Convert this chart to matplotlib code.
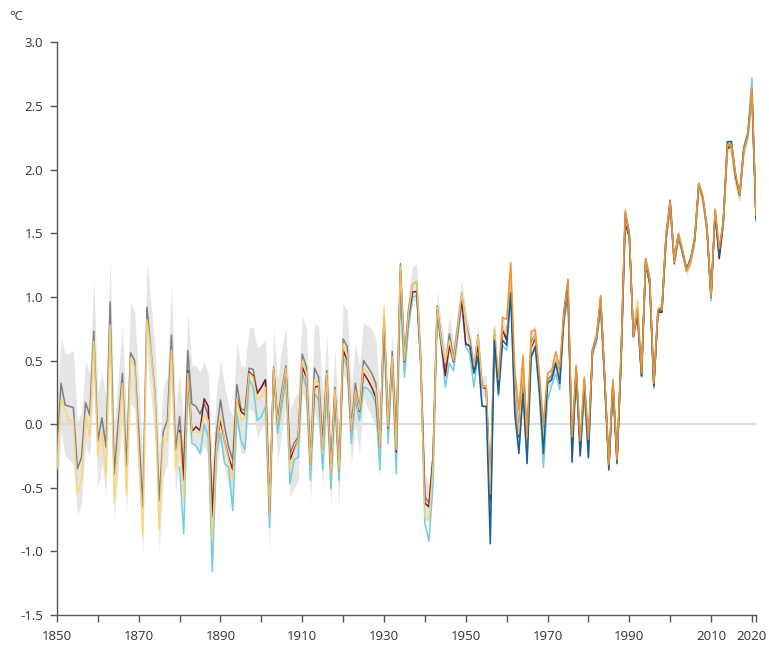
import numpy as np
import matplotlib
matplotlib.use("Agg")
import matplotlib.pyplot as plt

# ==========================================================
# DATA  (annual temperature anomaly, degC)
# ==========================================================

GRAY_START = 1850
gray = [
    -0.22, 0.32, 0.15, 0.14, 0.13, -0.35, -0.26, 0.17, 0.07, 0.73,
    -0.13, 0.05, -0.18, 0.96, -0.39, 0.02, 0.40, -0.33, 0.56, 0.50,
    -0.06, -0.65, 0.92, 0.58, 0.24, -0.60, -0.06, 0.03, 0.70, -0.20,
    0.06, -0.34, 0.58, 0.16, 0.14, 0.08, 0.16, 0.07, -0.65, -0.07,
    0.19, -0.02, -0.18, -0.28, 0.31, 0.12, 0.11, 0.44, 0.43, 0.25,
    0.29, 0.35, -0.68, 0.45, 0.03, 0.27, 0.46, -0.23, -0.15, -0.10,
    0.55, 0.45, -0.28, 0.44, 0.37, -0.13, 0.42, -0.34, 0.29, -0.36,
    0.67, 0.61, -0.02, 0.32, 0.11, 0.50, 0.45, 0.40, 0.32, -0.13,
    0.84, 0.00, 0.57, -0.10, 1.26, 0.53, 0.90, 1.10, 1.12, 0.50,
    -0.57, -0.62, -0.26, 0.93, 0.68, 0.45, 0.71, 0.52, 0.76, 1.03,
    0.80, 0.66, 0.45, 0.70, 0.30, 0.30, -0.50, 0.74, 0.33, 0.76,
    0.68, 1.15, 0.30, -0.05, 0.45, -0.12, 0.65, 0.70, 0.33, -0.10,
    0.35, 0.38, 0.50, 0.40, 0.85, 1.08, -0.15, 0.44, -0.15, 0.30,
    -0.15, 0.58, 0.70, 0.98, 0.35, -0.32, 0.33, -0.27, 0.53, 1.64,
    1.50, 0.69, 0.93, 0.39, 1.28, 1.14, 0.31, 0.89, 0.91, 1.48,
    1.73, 1.28, 1.48, 1.36, 1.21, 1.29, 1.45, 1.87, 1.76, 1.54,
    1.01, 1.67, 1.36, 1.58, 2.18, 2.19, 1.93, 1.80, 2.16, 2.27,
    2.60, 1.66,
]

# half width of the uncertainty band around the gray series
gray_unc = [
    0.40, 0.36, 0.40, 0.42, 0.45, 0.37, 0.36, 0.33, 0.33, 0.40,
    0.38, 0.36, 0.38, 0.35, 0.38, 0.36, 0.38, 0.38, 0.40, 0.38,
    0.36, 0.38, 0.36, 0.36, 0.36, 0.40, 0.35, 0.35, 0.40, 0.33,
    0.33, 0.33, 0.30, 0.30, 0.32, 0.33, 0.33, 0.32, 0.34, 0.32,
    0.32, 0.32, 0.32, 0.34, 0.34, 0.34, 0.34, 0.32, 0.33, 0.35,
    0.33, 0.32, 0.32, 0.30, 0.32, 0.33, 0.30, 0.34, 0.35, 0.35,
    0.30, 0.30, 0.33, 0.35, 0.40, 0.35, 0.30, 0.30, 0.30, 0.30,
    0.28, 0.28, 0.30, 0.32, 0.35, 0.30, 0.32, 0.35, 0.35, 0.30,
    0.15, 0.18, 0.15, 0.18, 0.10, 0.14, 0.14, 0.14, 0.14, 0.15,
    0.18, 0.15, 0.15, 0.12, 0.12, 0.15, 0.15, 0.12, 0.12, 0.10,
    0.10, 0.08, 0.08, 0.08, 0.08, 0.08, 0.10, 0.08, 0.08, 0.08,
    0.08, 0.08, 0.08, 0.08, 0.08, 0.08, 0.08, 0.08, 0.08, 0.08,
    0.07, 0.07, 0.07, 0.07, 0.07, 0.07, 0.07, 0.07, 0.07, 0.07,
    0.06, 0.06, 0.06, 0.06, 0.06, 0.06, 0.06, 0.06, 0.06, 0.06,
    0.05, 0.05, 0.05, 0.05, 0.05, 0.05, 0.05, 0.05, 0.05, 0.05,
    0.05, 0.05, 0.05, 0.05, 0.05, 0.05, 0.05, 0.05, 0.05, 0.05,
    0.05, 0.05, 0.05, 0.05, 0.05, 0.05, 0.05, 0.05, 0.05, 0.05,
    0.05, 0.05,
]

YELLOW_START = 1850
yellow = [
    -0.35, 0.19, 0.11, 0.02, 0.04, -0.54, -0.44, 0.07, -0.10, 0.65,
    -0.25, -0.06, -0.41, 0.78, -0.62, -0.12, 0.32, -0.56, 0.52, 0.45,
    -0.23, -0.88, 0.82, 0.57, 0.21, -0.83, -0.10, -0.13, 0.58, -0.35,
    -0.07, -0.60, 0.40, -0.06, -0.06, -0.07, 0.08, 0.03, -0.91, -0.18,
    0.08, -0.13, -0.28, -0.44, 0.21, 0.03, 0.05, 0.40, 0.37, 0.19,
    0.22, 0.29, -0.70, 0.44, 0.00, 0.24, 0.44, -0.36, -0.22, -0.13,
    0.50, 0.40, -0.33, 0.35, 0.32, -0.23, 0.40, -0.39, 0.27, -0.36,
    0.63, 0.55, -0.05, 0.27, 0.11, 0.45, 0.40, 0.35, 0.27, -0.18,
    0.92, -0.02, 0.53, -0.20, 1.24, 0.50, 0.87, 1.10, 1.13, 0.48,
    -0.73, -0.75, -0.31, 0.92, 0.66, 0.48, 0.66, 0.50, 0.74, 1.03,
    0.79, 0.62, 0.45, 0.69, 0.29, 0.30, -0.55, 0.76, 0.35, 0.76,
    0.70, 1.15, 0.28, -0.08, 0.42, -0.15, 0.62, 0.70, 0.32, -0.12,
    0.33, 0.35, 0.50, 0.38, 0.85, 1.08, -0.15, 0.44, -0.15, 0.30,
    -0.15, 0.58, 0.70, 0.96, 0.34, -0.30, 0.32, -0.25, 0.52, 1.62,
    1.49, 0.72, 0.98, 0.41, 1.27, 1.12, 0.33, 0.92, 0.90, 1.46,
    1.72, 1.27, 1.47, 1.35, 1.20, 1.27, 1.44, 1.86, 1.75, 1.52,
    1.03, 1.66, 1.37, 1.57, 2.15, 2.17, 1.90, 1.76, 2.13, 2.24,
    2.55, 1.68,
]

RED_START = 1880
red = [
    -0.05, -0.44, 0.42, -0.06, -0.02, -0.05, 0.20, 0.14, -0.73, -0.15,
    0.03, -0.13, -0.26, -0.36, 0.21, 0.10, 0.07, 0.41, 0.38, 0.24,
    0.29, 0.35, -0.70, 0.43, 0.00, 0.24, 0.43, -0.28, -0.20, -0.13,
    0.45, 0.37, -0.32, 0.29, 0.30, -0.20, 0.38, -0.38, 0.25, -0.36,
    0.58, 0.50, -0.05, 0.27, 0.10, 0.40, 0.35, 0.29, 0.21, -0.18,
    0.85, -0.03, 0.52, -0.22, 1.20, 0.49, 0.85, 1.04, 1.04, 0.47,
    -0.62, -0.65, -0.26, 0.90, 0.64, 0.38, 0.62, 0.49, 0.72, 0.98,
    0.63, 0.62, 0.42, 0.62, 0.29, 0.28, -0.60, 0.70, 0.30, 0.74,
    0.66, 1.10, 0.25, -0.10, 0.40, -0.15, 0.60, 0.68, 0.30, -0.12,
    0.33, 0.35, 0.48, 0.37, 0.83, 1.05, -0.18, 0.42, -0.18, 0.30,
    -0.17, 0.57, 0.68, 0.95, 0.33, -0.33, 0.31, -0.28, 0.50, 1.58,
    1.47, 0.70, 0.88, 0.38, 1.26, 1.10, 0.30, 0.88, 0.88, 1.45,
    1.72, 1.26, 1.46, 1.35, 1.20, 1.27, 1.44, 1.86, 1.77, 1.52,
    1.00, 1.65, 1.30, 1.58, 2.17, 2.17, 1.92, 1.79, 2.14, 2.26,
    2.58, 1.63,
]

CYAN_START = 1880
cyan = [
    -0.34, -0.86, 0.30, -0.15, -0.17, -0.23, 0.00, -0.10, -1.16, -0.23,
    -0.07, -0.31, -0.34, -0.68, 0.08, -0.13, -0.20, 0.35, 0.29, 0.03,
    0.06, 0.14, -0.81, 0.40, -0.07, 0.14, 0.35, -0.47, -0.28, -0.26,
    0.40, 0.29, -0.44, 0.24, 0.19, -0.36, 0.27, -0.51, 0.19, -0.44,
    0.53, 0.45, -0.15, 0.19, 0.03, 0.29, 0.28, 0.24, 0.16, -0.36,
    0.70, -0.15, 0.48, -0.39, 1.00, 0.37, 0.76, 1.00, 1.01, 0.45,
    -0.78, -0.92, -0.47, 0.87, 0.61, 0.29, 0.48, 0.42, 0.68, 0.95,
    0.61, 0.55, 0.29, 0.55, 0.14, 0.14, -0.70, 0.62, 0.22, 0.62,
    0.58, 1.00, 0.10, -0.18, 0.30, -0.25, 0.52, 0.60, 0.22, -0.34,
    0.19, 0.30, 0.40, 0.27, 0.80, 1.00, -0.28, 0.38, -0.25, 0.22,
    -0.27, 0.55, 0.65, 0.90, 0.30, -0.35, 0.30, -0.30, 0.48, 1.60,
    1.47, 0.68, 0.85, 0.37, 1.27, 1.10, 0.28, 0.87, 0.90, 1.47,
    1.74, 1.28, 1.48, 1.35, 1.22, 1.30, 1.46, 1.88, 1.78, 1.55,
    0.97, 1.68, 1.32, 1.60, 2.20, 2.20, 1.96, 1.80, 2.18, 2.30,
    2.72, 1.62,
]

BLUE_START = 1950
blue = [
    0.63, 0.61, 0.40, 0.53, 0.14, 0.14, -0.94, 0.66, 0.24, 0.66,
    0.62, 1.03, 0.08, -0.23, 0.24, -0.31, 0.53, 0.61, 0.27, -0.23,
    0.32, 0.35, 0.48, 0.32, 0.87, 1.12, -0.30, 0.44, -0.25, 0.35,
    -0.26, 0.58, 0.68, 0.99, 0.35, -0.36, 0.33, -0.31, 0.55, 1.66,
    1.50, 0.69, 0.86, 0.38, 1.30, 1.13, 0.30, 0.88, 0.92, 1.48,
    1.76, 1.29, 1.49, 1.36, 1.22, 1.30, 1.46, 1.89, 1.78, 1.55,
    1.00, 1.67, 1.33, 1.60, 2.22, 2.22, 1.95, 1.80, 2.16, 2.28,
    2.63, 1.60,
]

ORANGE_START = 1958
orange = [
    0.35, 0.84,
    0.82, 1.27, 0.42, 0.11, 0.54, -0.10, 0.73, 0.74, 0.40, 0.00,
    0.40, 0.42, 0.57, 0.45, 0.89, 1.14, -0.10, 0.46, -0.13, 0.37,
    -0.12, 0.58, 0.68, 1.01, 0.37, -0.32, 0.35, -0.28, 0.57, 1.68,
    1.50, 0.69, 0.90, 0.40, 1.30, 1.15, 0.32, 0.90, 0.92, 1.50,
    1.75, 1.29, 1.50, 1.37, 1.21, 1.29, 1.47, 1.89, 1.79, 1.55,
    1.00, 1.69, 1.38, 1.60, 2.20, 2.20, 1.97, 1.81, 2.15, 2.27,
    2.64, 1.64,
]

X_TICKS = list(range(1850, 2030, 10)) + [2021]
X_LABELS = ["1850", "", "1870", "", "1890", "", "1910", "", "1930", "",
            "1950", "", "1970", "", "1990", "", "2010", "2020", ""]
Y_TICKS = [-1.5, -1.0, -0.5, 0.0, 0.5, 1.0, 1.5, 2.0, 2.5, 3.0]

# ==========================================================
# FIGURE
# ==========================================================

plt.rcParams["font.family"] = ["Open Sans", "DejaVu Sans"]
plt.rcParams["axes.unicode_minus"] = False

fig = plt.figure(figsize=(7.69, 6.5), dpi=100)
ax = fig.add_axes([0.0741, 0.0538, 0.909, 0.881])


def years(start, vals):
    return np.arange(start, start + len(vals))


g_years = years(GRAY_START, gray)
g = np.array(gray)
u = np.array(gray_unc)

ax.fill_between(g_years, g - u, g + u, color="#e5e5e5", lw=0, zorder=1)
ax.axhline(0, color="#dcdcdc", lw=1.5, zorder=2)

LW = 1.1
ax.plot(g_years, g, color="#7f7f7f", lw=LW, zorder=3)
ax.plot(years(CYAN_START, cyan), cyan, color="#6fcde0", lw=LW, zorder=4)
ax.plot(years(RED_START, red), red, color="#7a1a2c", lw=LW, zorder=5)
ax.plot(years(YELLOW_START, yellow), yellow, color="#fdd36e", lw=LW,
        alpha=0.9, zorder=6)
ax.plot(years(BLUE_START, blue), blue, color="#1d5c96", lw=LW, zorder=7)
ax.plot(years(ORANGE_START, orange), orange, color="#ee9431", lw=LW,
        zorder=8)

# ==========================================================
# AXES
# ==========================================================

ax.set_xlim(1850, 2021)
ax.set_ylim(-1.5, 3.0)

ax.set_xticks(X_TICKS)
ax.set_xticklabels(X_LABELS)
ax.set_yticks(Y_TICKS)
ax.set_yticklabels([f"{v:.1f}" for v in Y_TICKS])

for side in ["top", "right"]:
    ax.spines[side].set_visible(False)
for side in ["left", "bottom"]:
    ax.spines[side].set_color("#555555")
    ax.spines[side].set_linewidth(1.0)

ax.tick_params(axis="both", colors="#555555", labelcolor="#333333",
               labelsize=9.5, length=5, width=1.0, direction="out")
ax.tick_params(axis="x", pad=6)
ax.tick_params(axis="y", pad=5)

fig.text(0.012, 0.975, "°C", fontsize=9.5, color="#333333",
         ha="left", va="center")

fig.savefig("out.png", dpi=100)
